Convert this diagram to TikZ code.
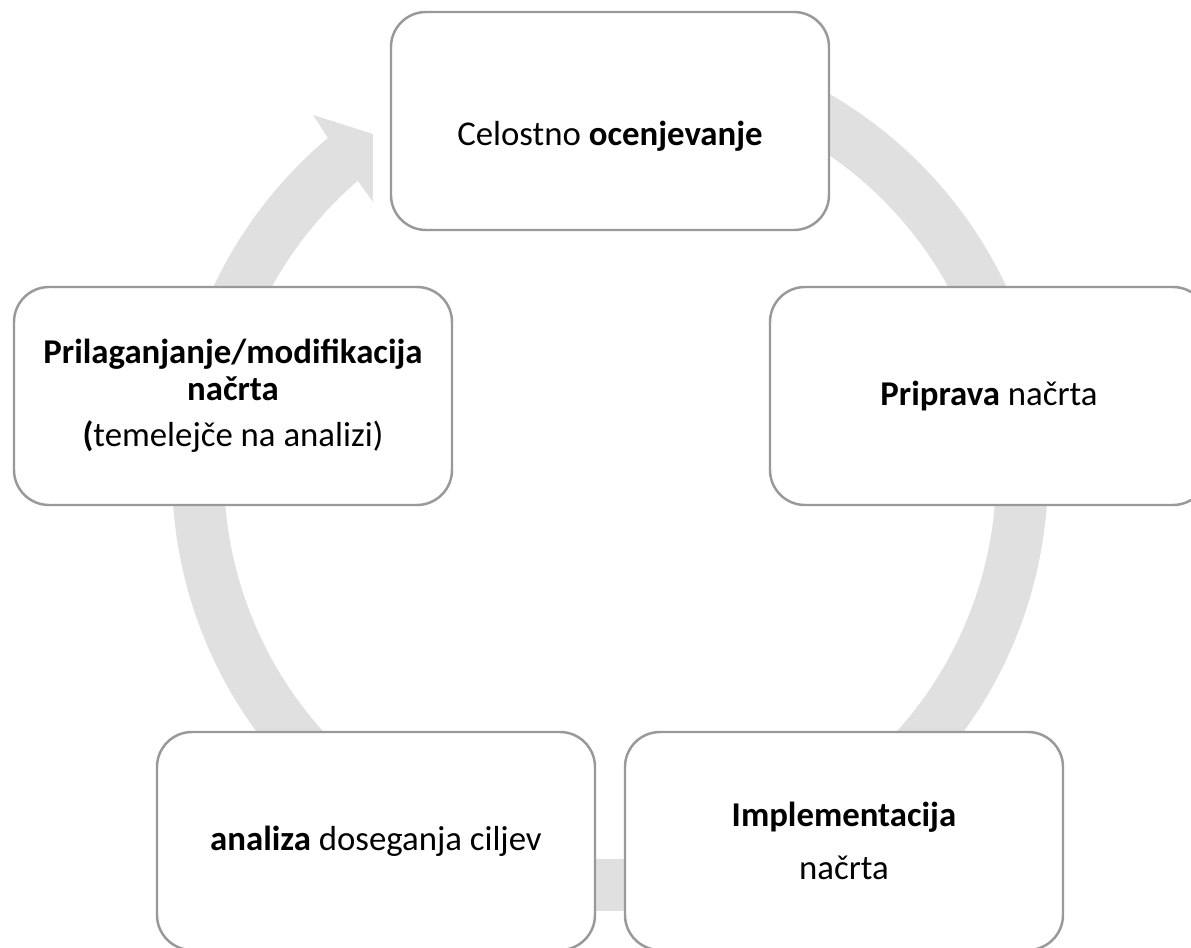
\documentclass[tikz,border=0pt]{standalone}
\usepackage{fontspec}
\setmainfont{Carlito}
\usetikzlibrary{positioning}
\definecolor{ringgray}{HTML}{E0E0E0}
\definecolor{boxgray}{HTML}{999999}

\begin{document}
\begin{tikzpicture}[
  stage/.style={draw=boxgray, fill=white, line width=1.4pt, rounded corners=0.7cm, minimum width=8.76cm, minimum height=4.36cm, align=center, font=\fontsize{19.8pt}{20.8pt}\selectfont},
  cycle/.style={fill=ringgray}
]
\useasboundingbox (-12.2,-9.48) rectangle (11.62,9.46);
% circular arrow behind the stages
\fill[cycle] (130.1:8.76) arc[start angle=130.1, end angle=470, radius=8.76]
  -- (470:7.72) arc[start angle=470, end angle=130.8, radius=7.72]
  -- (-4.74,5.42) -- (-4.74,6.78) -- (-5.94,7.16) -- cycle;
\node[stage] (ocena) at (0,7.04) {\raisebox{-0.5cm}[0pt][0pt]{Celostno \textbf{ocenjevanje}}};
\node[stage] (priprava) at (7.58,1.54) {\textbf{Priprava} načrta};
\node[stage] (izvedba) at (4.68,-7.36) {\textbf{Implementacija}\\[0.32cm] načrta};
\node[stage] (analiza) at (-4.68,-7.36) {\textbf{analiza} doseganja ciljev};
\node[stage] (prilagoditev) at (-7.54,1.54) {\textbf{Prilaganjanje/modifikacija}\\ \textbf{načrta}\\[0.2cm] \textbf{(}temelejče na analizi)};
\end{tikzpicture}
\end{document}
